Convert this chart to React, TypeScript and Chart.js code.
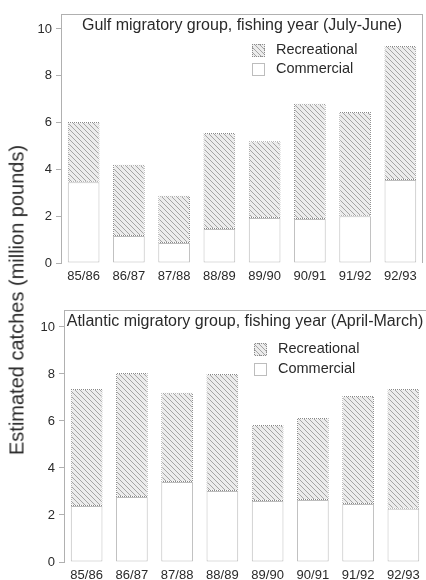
import React, { useEffect, useRef } from 'react';
import { Chart, registerables } from 'chart.js';

Chart.register(...registerables);

const categories = ['85/86', '86/87', '87/88', '88/89', '89/90', '90/91', '91/92', '92/93'];
const gulfCommercial = [3.45, 1.15, 0.85, 1.45, 1.92, 1.88, 2.0, 3.55];
const gulfRecreational = [2.58, 3.05, 2.02, 4.1, 3.28, 4.92, 4.45, 5.72];
const atlanticCommercial = [2.38, 2.77, 3.4, 3.02, 2.6, 2.64, 2.47, 2.26];
const atlanticRecreational = [4.98, 5.27, 3.8, 4.98, 3.23, 3.49, 4.59, 5.1];
const yTicks = [0, 2, 4, 6, 8, 10];
const gulfTitle = 'Gulf migratory group, fishing year (July-June)';
const atlanticTitle = 'Atlantic migratory group, fishing year (April-March)';
const yAxisTitle = 'Estimated catches (million pounds)';

const FONT = '"Liberation Sans", Arial, Helvetica, sans-serif';
const TEXT = '#2a2a2a';
const AXIS = '#b0b0b0';

function makeHatch(): CanvasPattern | string {
  const s = 5;
  const c = document.createElement('canvas');
  c.width = s;
  c.height = s;
  const ctx = c.getContext('2d');
  if (!ctx) return '#ddd';
  ctx.fillStyle = '#ececec';
  ctx.fillRect(0, 0, s, s);
  ctx.strokeStyle = '#a4a4a4';
  ctx.lineWidth = 1;
  ctx.beginPath();
  for (const k of [-s, 0, s]) {
    ctx.moveTo(k, 0);
    ctx.lineTo(k + s, s);
  }
  ctx.stroke();
  return ctx.createPattern(c, 'repeat') || '#ddd';
}

function makeDots(): CanvasPattern | string {
  const c = document.createElement('canvas');
  c.width = 2;
  c.height = 2;
  const ctx = c.getContext('2d');
  if (!ctx) return '#999';
  ctx.fillStyle = '#8a8a8a';
  ctx.fillRect(0, 0, 1, 1);
  ctx.fillRect(1, 1, 1, 1);
  return ctx.createPattern(c, 'repeat') || '#999';
}

const decorPlugin = {
  id: 'decor',
  afterDraw(chart: any, _args: any, opts: any) {
    const { ctx, chartArea: a } = chart;
    ctx.save();
    ctx.strokeStyle = AXIS;
    ctx.lineWidth = 1;
    ctx.beginPath();
    ctx.moveTo(a.left, Math.round(a.top) + 0.5);
    ctx.lineTo(a.right, Math.round(a.top) + 0.5);
    if (opts.rightBorder) {
      ctx.moveTo(Math.round(a.right) - 0.5, a.top);
      ctx.lineTo(Math.round(a.right) - 0.5, a.bottom);
    }
    ctx.stroke();

    ctx.fillStyle = TEXT;
    ctx.font = `${opts.titleSize}px ${FONT}`;
    ctx.textAlign = 'center';
    ctx.textBaseline = 'middle';
    ctx.fillText(opts.title, (a.left + a.right) / 2, opts.titleY);

    const items = [...chart.data.datasets].reverse();
    items.forEach((ds: any, i: number) => {
      const cy = opts.legendY + i * opts.legendGap;
      const x = opts.legendX;
      const y = Math.round(cy - 6.5);
      ctx.fillStyle = ds.backgroundColor;
      ctx.fillRect(x, y, 13, 13);
      ctx.strokeStyle = ds.borderColor;
      ctx.lineWidth = 1;
      ctx.strokeRect(x + 0.5, y + 0.5, 12, 12);
      ctx.fillStyle = TEXT;
      ctx.font = `${opts.legendSize}px ${FONT}`;
      ctx.textAlign = 'left';
      ctx.textBaseline = 'middle';
      ctx.fillText(ds.label, x + opts.legendTextOffset, cy);
    });
    ctx.restore();
  },
};

interface PanelProps {
  commercial: number[];
  recreational: number[];
  yMax: number;
  yWidth: number;
  xHeight: number;
  padding: { top: number; right: number; left: number; bottom: number };
  decor: any;
}

function Panel(props: PanelProps) {
  const ref = useRef<HTMLCanvasElement | null>(null);
  useEffect(() => {
    if (!ref.current) return;
    const hatch = makeHatch();
    const dots = makeDots();
    const chart = new Chart(ref.current, {
      type: 'bar',
      data: {
        labels: categories,
        datasets: [
          {
            label: 'Commercial',
            data: props.commercial,
            backgroundColor: '#ffffff',
            borderColor: '#bdbdbd',
            borderWidth: 1,
            borderSkipped: false,
            barPercentage: 0.7,
            categoryPercentage: 1,
          },
          {
            label: 'Recreational',
            data: props.recreational,
            backgroundColor: hatch as any,
            borderColor: dots as any,
            borderWidth: 1,
            borderSkipped: false,
            barPercentage: 0.7,
            categoryPercentage: 1,
          },
        ],
      },
      options: {
        animation: false,
        responsive: false,
        devicePixelRatio: 1,
        layout: { padding: props.padding },
        scales: {
          x: {
            stacked: true,
            afterFit: (s: any) => {
              s.height = props.xHeight;
            },
            grid: { display: false, drawTicks: false },
            border: { display: false },
            ticks: {
              padding: 6,
              color: TEXT,
              font: { family: FONT, size: 13 },
              maxRotation: 0,
              autoSkip: false,
            },
          },
          y: {
            stacked: true,
            min: 0,
            max: props.yMax,
            afterBuildTicks: (s: any) => {
              s.ticks = yTicks.map((v) => ({ value: v }));
            },
            afterFit: (s: any) => {
              s.width = props.yWidth;
            },
            border: { display: true, color: AXIS, width: 1 },
            grid: { drawOnChartArea: false, drawTicks: true, tickLength: 5, color: AXIS },
            ticks: { padding: 4, color: TEXT, font: { family: FONT, size: 13 } },
          },
        },
        plugins: {
          legend: { display: false },
          title: { display: false },
          tooltip: { enabled: false },
          decor: props.decor,
        } as any,
      },
      plugins: [decorPlugin],
    });
    return () => chart.destroy();
  }, []);
  return <canvas ref={ref} width={426} height={290} style={{ display: 'block', width: 426, height: 290 }} />;
}

export default function App() {
  return (
    <div style={{ position: 'fixed', left: 0, top: 0, width: 426, height: 580, background: '#fff', overflow: 'hidden' }}>
      <div style={{ position: 'absolute', left: 0, top: 0 }}>
        <Panel
          commercial={gulfCommercial}
          recreational={gulfRecreational}
          yMax={10.64}
          yWidth={61}
          xHeight={27}
          padding={{ top: 14, right: 3, left: 0, bottom: 0 }}
          decor={{
            title: gulfTitle,
            titleSize: 16,
            titleY: 26,
            rightBorder: true,
            legendX: 252,
            legendY: 50,
            legendGap: 19,
            legendSize: 14.5,
            legendTextOffset: 24,
          }}
        />
      </div>
      <div style={{ position: 'absolute', left: 0, top: 290 }}>
        <Panel
          commercial={atlanticCommercial}
          recreational={atlanticRecreational}
          yMax={10.72}
          yWidth={64}
          xHeight={18}
          padding={{ top: 20, right: 0, left: 0, bottom: 0 }}
          decor={{
            title: atlanticTitle,
            titleSize: 16,
            titleY: 32,
            rightBorder: false,
            legendX: 254,
            legendY: 59,
            legendGap: 20,
            legendSize: 14.5,
            legendTextOffset: 24,
          }}
        />
      </div>
      <div
        style={{
          position: 'absolute',
          left: 17,
          top: 300,
          transform: 'translate(-50%, -50%) rotate(-90deg)',
          whiteSpace: 'nowrap',
          font: `20px ${FONT}`,
          color: TEXT,
        }}
      >
        {yAxisTitle}
      </div>
    </div>
  );
}
